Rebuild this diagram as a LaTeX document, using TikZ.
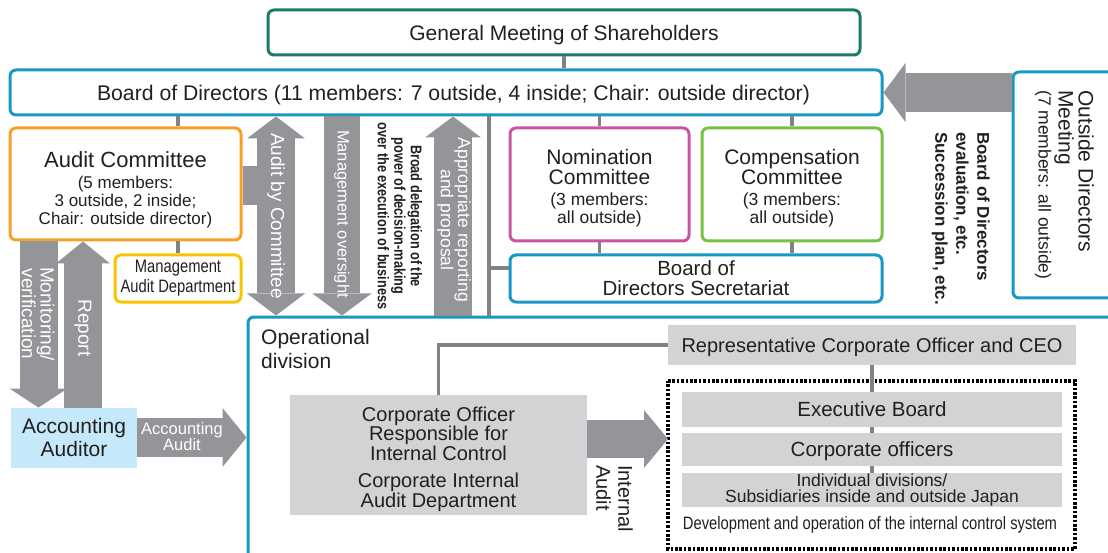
\documentclass[tikz,border=0pt]{standalone}
\usepackage{fontspec}
\setmainfont{Liberation Sans}
\newfontfamily\condfont[FakeStretch=0.82]{Liberation Sans}
\usetikzlibrary{arrows.meta}
\definecolor{cteal}{RGB}{27,123,106}
\definecolor{cblue}{RGB}{24,153,196}
\definecolor{corange}{RGB}{247,160,40}
\definecolor{cyellow}{RGB}{250,195,0}
\definecolor{cmagenta}{RGB}{200,85,164}
\definecolor{cgreen}{RGB}{122,193,67}
\definecolor{arrowgray}{RGB}{147,149,152}
\definecolor{linegray}{RGB}{128,130,133}
\definecolor{boxgray}{RGB}{209,211,212}
\definecolor{lightblue}{RGB}{197,233,250}
\definecolor{ink}{RGB}{35,31,32}
\newcommand{\fs}[2]{\fontsize{#1}{#2}\selectfont}
\begin{document}
\begin{tikzpicture}[x=1pt,y=-1pt,
  box/.style={draw=#1, line width=3pt, rounded corners=6pt, fill=white, text=ink, inner sep=0pt, align=center},
  graybox/.style={fill=boxgray, text=ink, inner sep=0pt, outer sep=0pt, align=center},
  conn/.style={draw=linegray, line width=3.5pt},
  wlbl/.style={text=white, inner sep=0pt, align=center, rotate=-90},
  blbl/.style={text=ink, inner sep=0pt, align=center},
  dotframe/.style={draw=black, line width=3.6pt, dash pattern=on 2.6pt off 1.8pt},
  bigarrow/.style n args={3}{draw=arrowgray, line width=#1pt, -{Triangle[width=#2pt, length=#3pt, line width=0pt]}},
  dbigarrow/.style n args={3}{draw=arrowgray, line width=#1pt, {Triangle[width=#2pt, length=#3pt, line width=0pt]}-{Triangle[width=#2pt, length=#3pt, line width=0pt]}}
]
\useasboundingbox (0,0) rectangle (1108,553);
\fill[white] (0,0) rectangle (1108,553);
\clip (0,0) rectangle (1108,553);

% operational division
\node[box=cblue, minimum width=882, minimum height=253] (op) at (689,443.5) {};
\node[blbl, anchor=north west, align=left, font=\fs{21}{23.5}] (optxt) at (261,329.5) {Operational\\division};

% top boxes
\node[box=cteal, minimum width=592, minimum height=45, text depth=0pt, font=\fs{21}{24}] (gm) at (564,32.5) {General Meeting of Shareholders};
\node[box=cblue, minimum width=872, minimum height=45, text depth=0pt, font=\fs{21.2}{24}] (bod) at (446,92.5) {\hspace*{15pt}Board of Directors (11 members: 7 outside, 4 inside; Chair: outside director)};
\node[box=cblue, minimum width=117, minimum height=226] (odm) at (1071.5,185) {};
\node[blbl, rotate=-90, anchor=north west, align=left, font=\fs{21}{20}] (odmtxt) at (1094,90) {Outside Directors\\Meeting\\\fs{17.5}{20}(7 members: all outside)};

% committees
\node[box=corange, minimum width=231, minimum height=112] (ac) at (125.5,184) {};
\node[blbl, font=\fs{17}{18}] (actxt) at (125.5,189.5) {\fs{22}{22}Audit Committee\\[3pt](5 members:\\3 outside, 2 inside;\\Chair: outside director)};
\node[box=cyellow, minimum width=126, minimum height=47, font=\condfont\fs{18}{20}] (mad) at (178,278.5) {Management\\Audit Department};
\node[box=cmagenta, minimum width=179, minimum height=113] (nom) at (599.5,184.5) {};
\node[blbl, font=\fs{21}{20}] (nomtxt) at (599.5,188) {Nomination\\Committee\\[1pt]\fs{17.5}{18}(3 members:\\[-2pt]\fs{17.5}{18}all outside)};
\node[box=cgreen, minimum width=180, minimum height=113] (comp) at (792,184.5) {};
\node[blbl, font=\fs{21}{20}] (comptxt) at (792,188) {Compensation\\Committee\\[1pt]\fs{17.5}{18}(3 members:\\[-2pt]\fs{17.5}{18}all outside)};
\node[box=cblue, minimum width=372, minimum height=47, font=\fs{20.5}{20}] (sec) at (696,278.5) {Board of\\Directors Secretariat};

% auditor
\node[fill=lightblue, text=ink, inner sep=0pt, outer sep=0pt, minimum width=126, minimum height=60, align=center, font=\fs{21}{23.5}] (acc) at (74,437.5) {Accounting\\Auditor};

% operational contents
\node[graybox, minimum width=408, minimum height=40, text depth=0pt, font=\fs{20}{22}] (ceo) at (872,345) {Representative Corporate Officer and CEO};
\node[graybox, minimum width=297, minimum height=120] (coi) at (438.5,455) {};
\node[blbl, font=\fs{20}{19.5}] (coitxt) at (438.5,459) {Corporate Officer\\Responsible for\\Internal Control\\[8pt]Corporate Internal\\Audit Department};
\node[inner sep=0pt, outer sep=0pt, minimum width=407, minimum height=168] (dot) at (871.5,465) {};
\draw[dotframe] (dot.north west) -- (dot.north east) -- (dot.south east) -- (dot.south west) -- cycle;
\node[graybox, minimum width=380, minimum height=35, text depth=0pt, font=\fs{20.5}{22}] (exb) at (872,409.5) {Executive Board};
\node[graybox, minimum width=380, minimum height=33, text depth=0pt, font=\fs{20.5}{22}] (cof) at (872,449.5) {Corporate officers};
\node[graybox, minimum width=380, minimum height=34, font=\fs{17.5}{16}] (ind) at (872,490) {Individual divisions/\\Subsidiaries inside and outside Japan};
\node[blbl, font=\condfont\fs{18}{20}] (devtxt) at (870,525) {Development and operation of the internal control system};

% connectors
\draw[conn] (gm.south) -- (gm.south |- bod.north);
\draw[conn] (mad.north |- bod.south) -- (mad.north |- ac.north);
\draw[conn] (ac.south -| mad.north) -- (mad.north);
\draw[conn] (nom.north |- bod.south) -- (nom.north);
\draw[conn] (comp.north |- bod.south) -- (comp.north);
\draw[conn] (nom.south) -- (nom.south |- sec.north);
\draw[conn] (comp.south) -- (comp.south |- sec.north);
\coordinate (vx) at (489,268);
\draw[conn] (vx |- bod.south) -- (vx |- op.north);
\draw[conn] (vx) -- (vx -| sec.west);
\draw[conn] (ceo.west) -| (coi.north);
\draw[conn] (ceo.south) -- (exb.north);
\draw[conn] (exb.south) -- (cof.north);
\draw[conn] (cof.south) -- (ind.north);

% block arrows
\coordinate (abcx) at (276,185.5);
\coordinate (mox) at (342,0);
\coordinate (apx) at (453,0);
\coordinate (monx) at (38.5,0);
\coordinate (repx) at (83,0);
\coordinate (iay) at (0,439);
\draw[arrowgray, line width=39pt] (ac.east |- abcx) -- (abcx);
\draw[dbigarrow={38}{58}{22}] (abcx |- bod.south) -- (abcx |- op.north);
\draw[bigarrow={36}{59}{22}] (mox |- bod.south) -- (mox |- op.north);
\draw[bigarrow={38}{56}{21}] (apx |- op.north) -- (apx |- bod.south);
\draw[bigarrow={38}{58}{19}] (monx |- ac.south) -- (monx |- acc.north);
\draw[bigarrow={38}{54}{22}] (repx |- acc.north) -- (repx |- ac.south);
\draw[bigarrow={39}{59}{24}] (acc.east) -- (acc.east -| op.west);
\draw[bigarrow={38}{58}{24}] (coi.east |- iay) -- (dot.west |- iay);
\draw[bigarrow={39}{59}{22}] (odm.west |- bod.east) -- (bod.east);

% arrow labels
\node[wlbl, font=\fs{19}{20}] (l1) at (276,216) {Audit by Committee};
\node[wlbl, font=\fs{16.5}{18}] (l2) at (342,214) {Management oversight};
\node[wlbl, font=\fs{17.5}{15}] (l3) at (454,220) {Appropriate reporting\\and proposal};
\node[wlbl, font=\fs{19}{17}] (l4) at (38,314) {Monitoring/\\verification};
\node[wlbl, font=\fs{19}{20}] (l5) at (83,328) {Report};
\node[text=white, inner sep=0pt, align=center, font=\fs{16.5}{16}] (l6) at (182,437) {Accounting\\Audit};

% black labels
\node[blbl, rotate=-90, font=\condfont\bfseries\fs{15.5}{16.5}] (bdtxt) at (400,216) {Broad delegation of the\\power of decision-making\\over the execution of business};
\node[blbl, rotate=-90, anchor=north west, align=left, font=\bfseries\fs{17}{21}] (evtxt) at (990,132) {Board of Directors\\evaluation, etc.\\Succession plan, etc.};
\node[blbl, rotate=-90, anchor=north west, align=left, font=\fs{20}{22}] (iatxt) at (633,465) {Internal\\Audit};
\end{tikzpicture}
\end{document}
